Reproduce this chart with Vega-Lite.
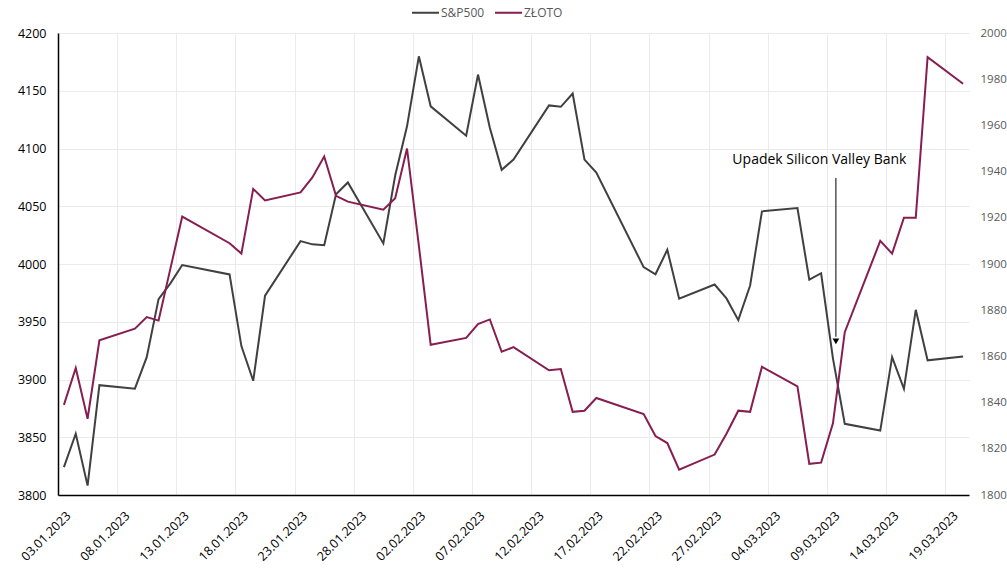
{
  "$schema": "https://vega.github.io/schema/vega-lite/v6.json",
  "width": 911,
  "height": 462,
  "autosize": {"type": "none"},
  "padding": {"left": 58, "top": 33, "right": 38, "bottom": 76},
  "background": "white",
  "config": {
    "font": "Open Sans",
    "view": {"stroke": null},
    "axis": {"labelFont": "Open Sans", "titleFont": "Open Sans"},
    "legend": {"labelFont": "Open Sans"}
  },
  "datasets": {
    "main": [
      {"date": "2023/01/03", "sp": 3824.1, "zloto": 1839},
      {"date": "2023/01/04", "sp": 3853.0, "zloto": 1855},
      {"date": "2023/01/05", "sp": 3808.1, "zloto": 1833},
      {"date": "2023/01/06", "sp": 3895.1, "zloto": 1867},
      {"date": "2023/01/09", "sp": 3892.1, "zloto": 1872},
      {"date": "2023/01/10", "sp": 3919.3, "zloto": 1877},
      {"date": "2023/01/11", "sp": 3969.6, "zloto": 1875.5},
      {"date": "2023/01/12", "sp": 3983.2, "zloto": 1898},
      {"date": "2023/01/13", "sp": 3999.1, "zloto": 1920.5},
      {"date": "2023/01/17", "sp": 3991.0, "zloto": 1909},
      {"date": "2023/01/18", "sp": 3928.9, "zloto": 1904.5},
      {"date": "2023/01/19", "sp": 3898.9, "zloto": 1932.5},
      {"date": "2023/01/20", "sp": 3972.6, "zloto": 1927.5},
      {"date": "2023/01/23", "sp": 4019.8, "zloto": 1931},
      {"date": "2023/01/24", "sp": 4017.0, "zloto": 1937.5},
      {"date": "2023/01/25", "sp": 4016.2, "zloto": 1946.5},
      {"date": "2023/01/26", "sp": 4060.4, "zloto": 1929.5},
      {"date": "2023/01/27", "sp": 4070.6, "zloto": 1927},
      {"date": "2023/01/30", "sp": 4017.8, "zloto": 1923.5},
      {"date": "2023/01/31", "sp": 4076.6, "zloto": 1928.5},
      {"date": "2023/02/01", "sp": 4119.2, "zloto": 1950},
      {"date": "2023/02/02", "sp": 4179.8, "zloto": 1908},
      {"date": "2023/02/03", "sp": 4136.5, "zloto": 1865},
      {"date": "2023/02/06", "sp": 4111.1, "zloto": 1868},
      {"date": "2023/02/07", "sp": 4164.0, "zloto": 1874},
      {"date": "2023/02/08", "sp": 4117.9, "zloto": 1876},
      {"date": "2023/02/09", "sp": 4081.5, "zloto": 1862},
      {"date": "2023/02/10", "sp": 4090.5, "zloto": 1864},
      {"date": "2023/02/13", "sp": 4137.3, "zloto": 1854},
      {"date": "2023/02/14", "sp": 4136.1, "zloto": 1854.5},
      {"date": "2023/02/15", "sp": 4147.6, "zloto": 1836},
      {"date": "2023/02/16", "sp": 4090.4, "zloto": 1836.5},
      {"date": "2023/02/17", "sp": 4079.1, "zloto": 1842},
      {"date": "2023/02/21", "sp": 3997.3, "zloto": 1835},
      {"date": "2023/02/22", "sp": 3991.1, "zloto": 1825.5},
      {"date": "2023/02/23", "sp": 4012.3, "zloto": 1822.5},
      {"date": "2023/02/24", "sp": 3970.0, "zloto": 1811},
      {"date": "2023/02/27", "sp": 3982.2, "zloto": 1817.5},
      {"date": "2023/02/28", "sp": 3970.2, "zloto": 1826.5},
      {"date": "2023/03/01", "sp": 3951.4, "zloto": 1836.5},
      {"date": "2023/03/02", "sp": 3981.4, "zloto": 1836},
      {"date": "2023/03/03", "sp": 4045.6, "zloto": 1855.5},
      {"date": "2023/03/06", "sp": 4048.4, "zloto": 1847},
      {"date": "2023/03/07", "sp": 3986.4, "zloto": 1813.5},
      {"date": "2023/03/08", "sp": 3992.0, "zloto": 1814},
      {"date": "2023/03/09", "sp": 3918.3, "zloto": 1831},
      {"date": "2023/03/10", "sp": 3861.6, "zloto": 1870.5},
      {"date": "2023/03/13", "sp": 3855.8, "zloto": 1910},
      {"date": "2023/03/14", "sp": 3919.3, "zloto": 1904.5},
      {"date": "2023/03/15", "sp": 3891.9, "zloto": 1920},
      {"date": "2023/03/16", "sp": 3960.3, "zloto": 1920},
      {"date": "2023/03/17", "sp": 3916.6, "zloto": 1989.5},
      {"date": "2023/03/20", "sp": 3920.0, "zloto": 1978}
    ],
    "note": [
      {"date": "2023/03/07 20:30", "value": 4090, "label": "Upadek Silicon Valley Bank"}
    ],
    "arrow": [
      {"date": "2023/03/09 06:00", "top": 4074.5, "bottom": 3937, "tip": 3933}
    ]
  },
  "layer": [
    {
      "layer": [
        {
          "data": {"name": "main"},
          "mark": {"type": "line", "strokeWidth": 2, "interpolate": "linear"},
          "encoding": {
            "x": {
              "field": "date",
              "type": "temporal",
              "scale": {"domain": [{"year": 2023, "month": 1, "date": 2, "hours": 12}, {"year": 2023, "month": 3, "date": 20, "hours": 12}]},
              "axis": {
                "title": null,
                "values": [
                  {"year": 2023, "month": 1, "date": 3},
                  {"year": 2023, "month": 1, "date": 8},
                  {"year": 2023, "month": 1, "date": 13},
                  {"year": 2023, "month": 1, "date": 18},
                  {"year": 2023, "month": 1, "date": 23},
                  {"year": 2023, "month": 1, "date": 28},
                  {"year": 2023, "month": 2, "date": 2},
                  {"year": 2023, "month": 2, "date": 7},
                  {"year": 2023, "month": 2, "date": 12},
                  {"year": 2023, "month": 2, "date": 17},
                  {"year": 2023, "month": 2, "date": 22},
                  {"year": 2023, "month": 2, "date": 27},
                  {"year": 2023, "month": 3, "date": 4},
                  {"year": 2023, "month": 3, "date": 9},
                  {"year": 2023, "month": 3, "date": 14},
                  {"year": 2023, "month": 3, "date": 19}
                ],
                "format": "%d.%m.%Y",
                "labelAngle": -45,
                "labelFontSize": 12.5,
                "labelColor": "#000000",
                "labelPadding": 14,
                "ticks": false,
                "domain": true,
                "domainColor": "#000000",
                "domainWidth": 1.5,
                "grid": true,
                "gridColor": "#ebebeb",
                "tickOffset": -6,
                "labelOffset": 6,
                "labelOverlap": false,
                "labelFlush": false
              }
            },
            "y": {
              "field": "sp",
              "type": "quantitative",
              "scale": {"domain": [3800, 4200], "nice": false, "zero": false},
              "axis": {
                "title": null,
                "format": "d",
                "values": [3800, 3850, 3900, 3950, 4000, 4050, 4100, 4150, 4200],
                "labelFontSize": 12.5,
                "labelColor": "#000000",
                "labelPadding": 12,
                "ticks": false,
                "domain": true,
                "domainColor": "#000000",
                "domainWidth": 1.5,
                "grid": true,
                "gridColor": "#ebebeb"
              }
            },
            "color": {
              "datum": "S&P500",
              "type": "nominal",
              "scale": {"domain": ["S&P500", "ZŁOTO"], "range": ["#404040", "#861E52"]},
              "legend": {
                "title": null,
                "orient": "none",
                "direction": "horizontal",
                "legendX": 353,
                "legendY": -35,
                "symbolType": "stroke",
                "symbolSize": 729,
                "symbolStrokeWidth": 2,
                "labelFontSize": 12,
                "labelColor": "#595959",
                "labelOffset": 1,
                "columnPadding": 6
              }
            }
          }
        },
        {
          "data": {"name": "note"},
          "mark": {"type": "text", "fontSize": 14, "color": "#000000", "align": "center", "baseline": "middle"},
          "encoding": {
            "x": {"field": "date", "type": "temporal"},
            "y": {"field": "value", "type": "quantitative"},
            "text": {"field": "label"}
          }
        },
        {
          "data": {"name": "arrow"},
          "mark": {"type": "rule", "color": "#000000", "strokeWidth": 1},
          "encoding": {
            "x": {"field": "date", "type": "temporal"},
            "y": {"field": "top", "type": "quantitative"},
            "y2": {"field": "bottom"}
          }
        },
        {
          "data": {"name": "arrow"},
          "mark": {"type": "point", "shape": "triangle-down", "filled": true, "color": "#000000", "size": 45, "opacity": 1},
          "encoding": {
            "x": {"field": "date", "type": "temporal"},
            "y": {"field": "tip", "type": "quantitative"}
          }
        }
      ]
    },
    {
      "data": {"name": "main"},
      "mark": {"type": "line", "strokeWidth": 2, "interpolate": "linear"},
      "encoding": {
        "x": {"field": "date", "type": "temporal"},
        "y": {
          "field": "zloto",
          "type": "quantitative",
          "scale": {"domain": [1800, 2000], "nice": false, "zero": false},
          "axis": {
            "orient": "right",
            "title": null,
            "format": "d",
            "values": [1800, 1820, 1840, 1860, 1880, 1900, 1920, 1940, 1960, 1980, 2000],
            "labelFontSize": 11.5,
            "labelColor": "#595959",
            "labelPadding": 11,
            "ticks": false,
            "domain": false,
            "grid": false
          }
        },
        "color": {"datum": "ZŁOTO", "type": "nominal"}
      }
    }
  ],
  "resolve": {"scale": {"y": "independent"}}
}
